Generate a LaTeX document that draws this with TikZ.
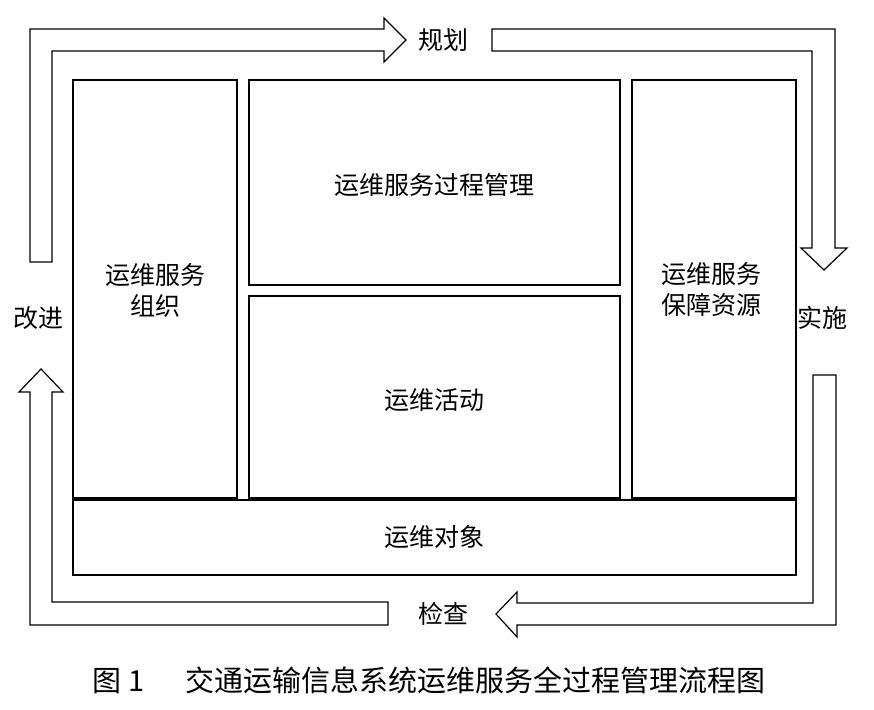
\documentclass[tikz,border=0pt]{standalone}
\usepackage{fontspec}
\newfontfamily\cjk{Noto Sans CJK SC}
\begin{document}
\begin{tikzpicture}[x=1pt,y=-1pt,
  box/.style={draw,line width=1.6pt},
  arr/.style={draw,line width=1.2pt,line join=miter},
  lab/.style={font=\cjk\fontsize{25}{31}\selectfont,align=center,inner sep=0pt}]
\useasboundingbox (0,0) rectangle (874,709);
% boxes
\draw[box] (73,80) rectangle (237,498);
\draw[box] (249,80) rectangle (620,285);
\draw[box] (249,296) rectangle (620,498);
\draw[box] (632,80) rectangle (796,498);
\draw[box] (73,500) rectangle (796,575);
\draw[line width=2.6pt] (73,500) -- (796,500);
% arrows
\draw[arr] (30,262) -- (30,29) -- (384,29) -- (384,18) -- (406,40) -- (384,62) -- (384,51) -- (52,51) -- (52,262) -- cycle;
\draw[arr] (492,29) -- (835,29) -- (835,248) -- (847,248) -- (824,270) -- (801,248) -- (812,248) -- (812,51) -- (492,51) -- cycle;
\draw[arr] (813,375) -- (836,375) -- (836,625) -- (517,625) -- (517,637) -- (496,614) -- (517,592) -- (517,603) -- (813,603) -- cycle;
\draw[arr] (388,602) -- (388,625) -- (30,625) -- (30,392) -- (19,392) -- (41,369) -- (63,392) -- (52,392) -- (52,602) -- cycle;
% labels
\node[lab] (org) at (155,290) {运维服务\\组织};
\node[lab] (proc) at (434,185) {运维服务过程管理};
\node[lab] (res) at (711,290) {运维服务\\保障资源};
\node[lab] (act) at (434,400) {运维活动};
\node[lab] (obj) at (434,537) {运维对象};
\node[lab] (plan) at (443,40) {规划};
\node[lab] (impl) at (822,318) {实施};
\node[lab] (chk) at (443,614) {检查};
\node[lab] (imp) at (38,318) {改进};
\node[lab,font=\cjk\fontsize{29}{34}\selectfont] (cap) at (429,680) {图 1\hspace{1.4em}交通运输信息系统运维服务全过程管理流程图};
\end{tikzpicture}
\end{document}
